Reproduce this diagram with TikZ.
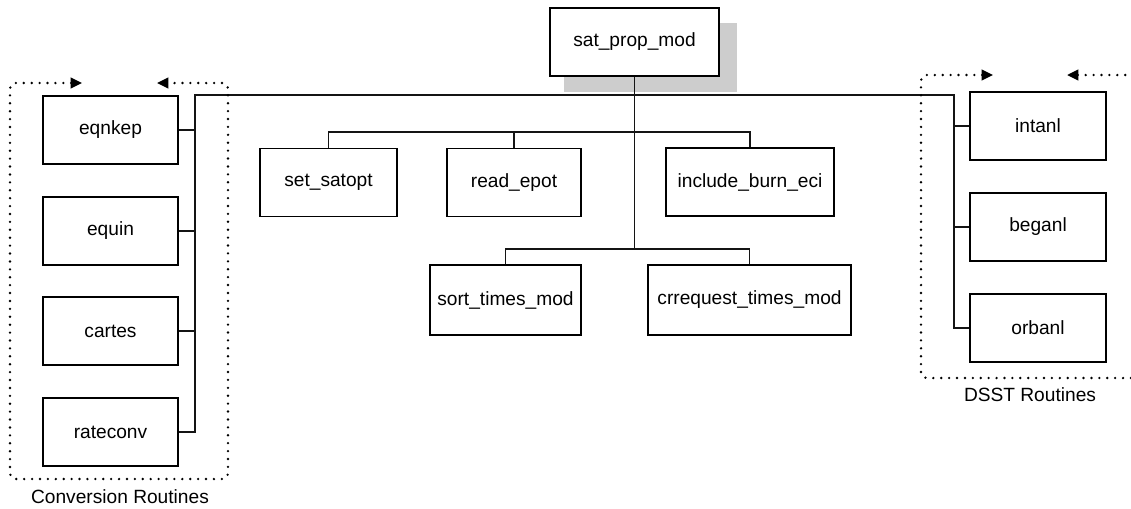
\documentclass[tikz,border=0pt]{standalone}
\usepackage{fontspec}
\setmainfont{Liberation Sans}
\usepackage{tikz}
\usetikzlibrary{arrows.meta,positioning,calc,backgrounds}
\definecolor{shadowgray}{RGB}{205,205,205}
\definecolor{linkblack}{RGB}{20,20,20}

\begin{document}
\begin{tikzpicture}[
  x=0.02cm, y=-0.02cm,
  module/.style={rectangle, draw=black, fill=white, line width=1.1pt, inner sep=0pt, minimum height=1.36cm, font=\fontsize{10.9}{13}\selectfont},
  link/.style={line width=0.85pt, color=linkblack},
  grpline/.style={line width=1.5pt, line cap=round, dash pattern=on 0pt off 4.5pt, rounded corners=3pt},
  grpboth/.style={grpline, {Triangle[length=6.5pt,width=6pt]}-{Triangle[length=6.5pt,width=6pt]}},
  grpstart/.style={grpline, {Triangle[length=6.5pt,width=6pt]}-},
  grouplbl/.style={font=\fontsize{10.9}{13}\selectfont, inner sep=0pt}
]
\useasboundingbox (0,0) rectangle (1131,508);

% Top Module
\node[module, minimum width=3.38cm] (satprop) at (634.5, 42) {sat\_prop\_mod};
\begin{scope}[on background layer]
\fill[shadowgray] ($(satprop.north west)+(15,16)$) rectangle ($(satprop.south east)+(17,15)$);
\end{scope}

% Middle Modules
\node[module, minimum width=2.74cm] (setsat) at (328.5, 182.5) {set\_satopt};
\node[module, minimum width=2.68cm] (readepot) at (514, 182.5) {read\_epot};
\node[module, minimum width=3.36cm] (incburn) at (750, 182) {include\_burn\_eci};
\node[module, minimum width=3.02cm, minimum height=1.4cm] (sorttimes) at (505.5, 300) {sort\_times\_mod};
\node[module, minimum width=4.06cm, minimum height=1.4cm] (crreq) at (749.5, 300) {crrequest\_times\_mod};

% Conversion Routines
\node[module, minimum width=2.7cm] (eqnkep) at (110.5, 130) {eqnkep};
\node[module, minimum width=2.7cm] (equin) at (110.5, 231) {equin};
\node[module, minimum width=2.7cm] (cartes) at (110.5, 331) {cartes};
\node[module, minimum width=2.7cm] (rateconv) at (110.5, 432) {rateconv};

% DSST Routines
\node[module, minimum width=2.72cm] (intanl) at (1038, 126) {intanl};
\node[module, minimum width=2.72cm] (beganl) at (1038, 227) {beganl};
\node[module, minimum width=2.72cm] (orbanl) at (1038, 328) {orbanl};

% Bus Junctions
\coordinate (lbus) at (195, 95);
\coordinate (rbus) at (954, 95);
\coordinate (row1) at (634.5, 132);
\coordinate (row2) at (634.5, 249);

% Main Bus to Both Groups
\draw[link] (rateconv.east) -| (lbus) -- (rbus) |- (orbanl.west);
\foreach \m in {eqnkep,equin,cartes}
  \draw[link] (\m.east) -- (\m.east -| lbus);
\foreach \m in {intanl,beganl}
  \draw[link] (\m.west) -- (\m.west -| rbus);

% Trunk and Middle Rows
\draw[link] (satprop.south) -- (row2);
\draw[link] (setsat.north) |- (row1) -| (incburn.north);
\draw[link] (readepot.north) -- (readepot.north |- row1);
\draw[link] (sorttimes.north) |- (row2) -| (crreq.north);

% Dotted Group Outlines
\draw[grpboth] (82, 83) -- (10, 83) -- (10, 479) -- (228, 479) -- (228, 83) -- (157, 83);
\draw[grpstart] (993, 75) -- (921, 75) -- (921, 378) -- (1131, 378);
\draw[grpstart] (1067, 75) -- (1131, 75);

% Group Labels
\node[grouplbl] (convlbl) at (120, 497) {Conversion Routines};
\node[grouplbl] (dsstlbl) at (1030, 395) {DSST Routines};

\end{tikzpicture}
\end{document}
